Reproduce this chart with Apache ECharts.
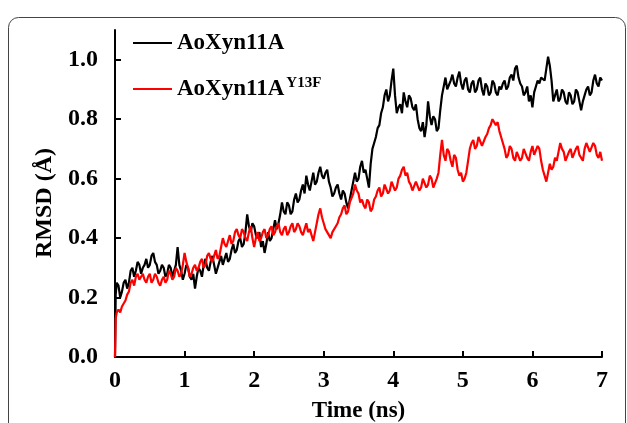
<!DOCTYPE html>
<html>
<head>
<meta charset="utf-8">
<script src="https://cdn.jsdelivr.net/npm/echarts@6/dist/echarts.min.js"></script>
<style>html,body{margin:0;padding:0;background:#fff}#c{width:627px;height:423px}</style>
</head>
<body>
<div id="c"></div>
<script>
// Time (ns)
var times = [0,0.01,
0.025,0.05,0.075,0.1,0.125,0.15,0.175,0.2,0.225,0.25,0.275,0.3,0.325,0.35,0.375,0.4,0.425,0.45,0.475,0.5,
0.525,0.55,0.575,0.6,0.625,0.65,0.675,0.7,0.725,0.75,0.775,0.8,0.825,0.85,0.875,0.9,0.925,0.95,0.975,1.0,
1.025,1.05,1.075,1.1,1.125,1.15,1.175,1.2,1.225,1.25,1.275,1.3,1.325,1.35,1.375,1.4,1.425,1.45,1.475,1.5,
1.525,1.55,1.575,1.6,1.625,1.65,1.675,1.7,1.725,1.75,1.775,1.8,1.825,1.85,1.875,1.9,1.925,1.95,1.975,2.0,
2.025,2.05,2.075,2.1,2.125,2.15,2.175,2.2,2.225,2.25,2.275,2.3,2.325,2.35,2.375,2.4,2.425,2.45,2.475,2.5,
2.525,2.55,2.575,2.6,2.625,2.65,2.675,2.7,2.725,2.75,2.775,2.8,2.825,2.85,2.875,2.9,2.925,2.95,2.975,3.0,
3.025,3.05,3.075,3.1,3.125,3.15,3.175,3.2,3.225,3.25,3.275,3.3,3.325,3.35,3.375,3.4,3.425,3.45,3.475,3.5,
3.525,3.55,3.575,3.6,3.625,3.65,3.675,3.7,3.725,3.75,3.775,3.8,3.825,3.85,3.875,3.9,3.925,3.95,3.975,4.0,
4.025,4.05,4.075,4.1,4.125,4.15,4.175,4.2,4.225,4.25,4.275,4.3,4.325,4.35,4.375,4.4,4.425,4.45,4.475,4.5,
4.525,4.55,4.575,4.6,4.625,4.65,4.675,4.7,4.725,4.75,4.775,4.8,4.825,4.85,4.875,4.9,4.925,4.95,4.975,5.0,
5.025,5.05,5.075,5.1,5.125,5.15,5.175,5.2,5.225,5.25,5.275,5.3,5.325,5.35,5.375,5.4,5.425,5.45,5.475,5.5,
5.525,5.55,5.575,5.6,5.625,5.65,5.675,5.7,5.725,5.75,5.775,5.8,5.825,5.85,5.875,5.9,5.925,5.95,5.975,6.0,
6.025,6.05,6.075,6.1,6.125,6.15,6.175,6.2,6.225,6.25,6.275,6.3,6.325,6.35,6.375,6.4,6.425,6.45,6.475,6.5,
6.525,6.55,6.575,6.6,6.625,6.65,6.675,6.7,6.725,6.75,6.775,6.8,6.825,6.85,6.875,6.9,6.925,6.95,6.975,7.0];

// RMSD (Å) of AoXyn11A
var wildType = [0,0.21,
0.25,0.24,0.20,0.22,0.25,0.26,0.23,0.25,0.29,0.30, 0.27,0.29,0.32,0.31,0.28,0.30,0.31,0.33,0.30,0.31,
0.34,0.35,0.32,0.31,0.28,0.29,0.31,0.30,0.27,0.28, 0.31,0.30,0.27,0.29,0.31,0.37,0.31,0.29,0.26,0.28,
0.31,0.30,0.27,0.26,0.28,0.23,0.27,0.30,0.29,0.27, 0.31,0.33,0.30,0.29,0.32,0.34,0.31,0.28,0.30,0.32,
0.34,0.31,0.33,0.35,0.32,0.33,0.36,0.38,0.35,0.36, 0.39,0.40,0.37,0.38,0.42,0.48,0.44,0.42,0.45,0.44,
0.41,0.40,0.42,0.37,0.39,0.35,0.38,0.42,0.39,0.40, 0.43,0.46,0.43,0.45,0.48,0.52,0.49,0.48,0.52,0.51,
0.48,0.49,0.53,0.55,0.52,0.53,0.56,0.58,0.55,0.61, 0.58,0.56,0.59,0.62,0.58,0.59,0.62,0.64,0.61,0.60,
0.62,0.63,0.59,0.57,0.54,0.55,0.57,0.58,0.55,0.53, 0.56,0.55,0.52,0.50,0.53,0.56,0.59,0.62,0.59,0.60,
0.64,0.66,0.62,0.63,0.60,0.57,0.65,0.70,0.72,0.74, 0.77,0.78,0.82,0.84,0.88,0.90,0.86,0.88,0.93,0.97,
0.88,0.82,0.84,0.85,0.82,0.89,0.86,0.84,0.88,0.87, 0.84,0.83,0.85,0.80,0.77,0.76,0.79,0.74,0.78,0.86,
0.81,0.78,0.81,0.80,0.76,0.77,0.83,0.88,0.91,0.94, 0.90,0.90,0.93,0.95,0.92,0.91,0.94,0.96,0.92,0.90,
0.93,0.94,0.90,0.89,0.92,0.93,0.89,0.90,0.93,0.94, 0.90,0.88,0.92,0.91,0.88,0.89,0.93,0.92,0.89,0.88,
0.91,0.90,0.92,0.93,0.90,0.91,0.94,0.95,0.93,0.97, 0.98,0.94,0.92,0.91,0.88,0.89,0.91,0.86,0.88,0.84,
0.89,0.91,0.93,0.92,0.94,0.94,0.93,0.97,1.01,0.98, 0.93,0.86,0.88,0.90,0.86,0.87,0.90,0.89,0.86,0.85,
0.89,0.88,0.85,0.86,0.90,0.89,0.86,0.83,0.86,0.88, 0.90,0.91,0.88,0.89,0.93,0.95,0.92,0.91,0.94,0.93];

// RMSD (Å) of AoXyn11A Y13F
var mutant = [0,0.13,
0.15,0.16,0.15,0.17,0.18,0.19,0.21,0.22,0.25,0.26, 0.24,0.27,0.28,0.26,0.27,0.28,0.26,0.25,0.27,0.28,
0.25,0.26,0.28,0.27,0.25,0.24,0.26,0.27,0.25,0.26, 0.29,0.28,0.26,0.27,0.30,0.29,0.27,0.28,0.31,0.35,
0.32,0.30,0.27,0.28,0.30,0.31,0.29,0.30,0.32,0.33, 0.30,0.31,0.34,0.35,0.33,0.32,0.34,0.36,0.33,0.34,
0.37,0.40,0.38,0.37,0.39,0.41,0.38,0.39,0.42,0.43, 0.41,0.40,0.43,0.42,0.40,0.39,0.42,0.44,0.40,0.37,
0.40,0.42,0.39,0.40,0.42,0.43,0.40,0.41,0.43,0.44, 0.41,0.42,0.44,0.45,0.42,0.41,0.43,0.44,0.41,0.42,
0.44,0.45,0.42,0.43,0.45,0.44,0.42,0.41,0.43,0.45, 0.42,0.43,0.41,0.39,0.42,0.45,0.48,0.50,0.47,0.45,
0.43,0.43,0.41,0.40,0.42,0.42,0.44,0.45,0.47,0.48, 0.50,0.51,0.48,0.49,0.52,0.52,0.55,0.58,0.56,0.55,
0.52,0.53,0.51,0.50,0.53,0.52,0.49,0.50,0.53,0.54, 0.56,0.57,0.54,0.55,0.58,0.58,0.55,0.56,0.59,0.59,
0.56,0.57,0.60,0.61,0.63,0.64,0.61,0.62,0.59,0.58, 0.56,0.56,0.59,0.59,0.56,0.57,0.60,0.60,0.57,0.58,
0.61,0.60,0.57,0.57,0.60,0.62,0.68,0.73,0.68,0.66, 0.70,0.69,0.66,0.64,0.68,0.67,0.63,0.61,0.62,0.59,
0.60,0.62,0.66,0.70,0.72,0.73,0.70,0.71,0.74,0.74, 0.71,0.71,0.74,0.75,0.77,0.78,0.80,0.80,0.78,0.79,
0.76,0.74,0.72,0.70,0.67,0.68,0.71,0.70,0.67,0.66, 0.69,0.69,0.66,0.67,0.70,0.70,0.67,0.66,0.69,0.71,
0.68,0.68,0.71,0.70,0.66,0.63,0.61,0.59,0.62,0.65, 0.63,0.64,0.67,0.66,0.69,0.72,0.70,0.69,0.66,0.66,
0.69,0.70,0.67,0.67,0.70,0.71,0.68,0.68,0.66,0.70, 0.72,0.72,0.69,0.69,0.72,0.71,0.68,0.67,0.69,0.66];

var xTicks = [0,1,2,3,4,5,6,7];
var yTicks = [0,0.2,0.4,0.6,0.8,1.0];
var seriesNames = ['AoXyn11A', 'AoXyn11A Y13F'];

function pairs(vals){ return times.map(function(t,i){ return [t, vals[i]]; }); }

var font = 'Liberation Serif, Times New Roman, serif';
var chart = echarts.init(document.getElementById('c'), null, {renderer:'canvas'});
chart.setOption({
  animation: false,
  backgroundColor: '#fff',
  grid: {left: 115, right: 25, top: 30, bottom: 66, outerBoundsMode: 'none', containLabel: false},
  legend: {
    orient: 'vertical', left: 128, top: 25, icon: 'rect', itemWidth: 39, itemHeight: 2,
    itemGap: 20,
    data: seriesNames,
    textStyle: {fontFamily: font, fontWeight: 'bold', fontSize: 23, color: '#000', lineHeight: 26,
      rich: {
        a: {fontFamily: font, fontWeight: 'bold', fontSize: 23, color: '#000', lineHeight: 26},
        s: {fontFamily: font, fontWeight: 'bold', fontSize: 15, color: '#000', lineHeight: 26, verticalAlign: 'top', padding: [0,0,16,2]}
      }
    },
    formatter: function(n){
      if (n === seriesNames[1]) return '{a|AoXyn11A}{s|Y13F}';
      return '{a|' + n + '}';
    }
  },
  xAxis: {
    type: 'value', min: 0, max: 7, interval: 1,
    name: 'Time (ns)', nameLocation: 'middle', nameGap: 43,
    nameTextStyle: {fontFamily: font, fontWeight: 'bold', fontSize: 23, color: '#000'},
    axisLine: {show: true, onZero: false, lineStyle: {color: '#000', width: 2}},
    axisTick: {show: true, inside: true, length: 6, lineStyle: {color: '#000', width: 2}, customValues: xTicks},
    axisLabel: {fontFamily: font, fontWeight: 'bold', fontSize: 24, color: '#000', margin: 12, customValues: xTicks},
    splitLine: {show: false}
  },
  yAxis: {
    type: 'value', min: 0, max: 1.1, interval: 0.2,
    axisLine: {show: true, onZero: false, lineStyle: {color: '#000', width: 2}},
    axisTick: {show: true, inside: true, length: 6, lineStyle: {color: '#000', width: 2}, customValues: yTicks},
    axisLabel: {fontFamily: font, fontWeight: 'bold', fontSize: 24, color: '#000', margin: 17, customValues: yTicks,
      formatter: function(v){ return v.toFixed(1); }},
    splitLine: {show: false}
  },
  graphic: [
    {type: 'rect', shape: {x: 8.5, y: 17.5, width: 617, height: 430, r: 10}, style: {fill: 'none', stroke: '#444', lineWidth: 1}, silent: true},
    {type: 'text', x: 45, y: 203, rotation: Math.PI/2, style: {text: 'RMSD (Å)', fontFamily: font, fontWeight: 'bold', fontSize: 24, fill: '#000', align: 'center', verticalAlign: 'middle'}}
  ],
  series: [
    {name: seriesNames[0], type: 'line', data: pairs(wildType), showSymbol: false, symbol: 'none', lineStyle: {color: '#000', width: 2.2}, itemStyle: {color: '#000'}, z: 5},
    {name: seriesNames[1], type: 'line', data: pairs(mutant), showSymbol: false, symbol: 'none', lineStyle: {color: '#ff0000', width: 2.2}, itemStyle: {color: '#ff0000'}, z: 6}
  ]
});
</script>
</body>
</html>
